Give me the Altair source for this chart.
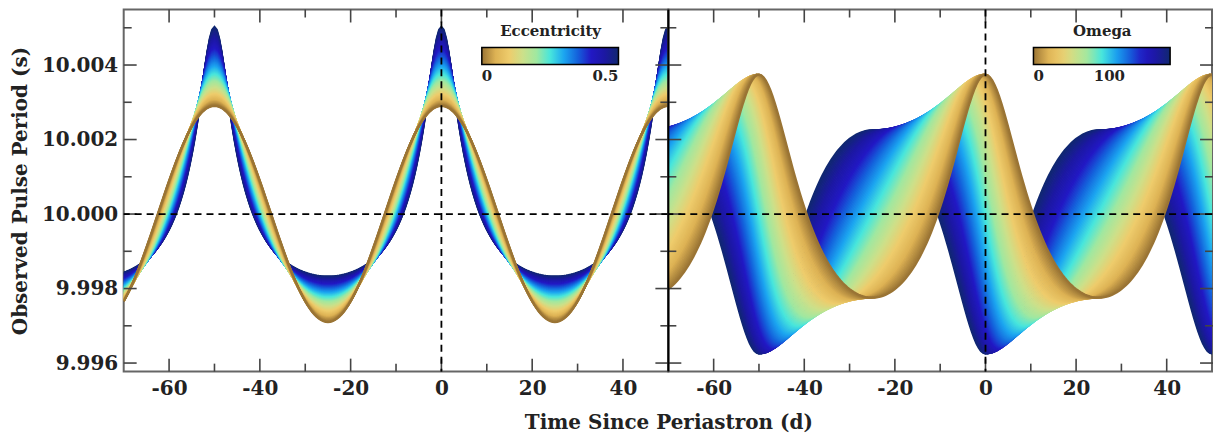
import numpy as np
import pandas as pd
import altair as alt

# ---- values ---------------------------------------------------------------
P_REST = 10.0            # s, level of the horizontal dashed line
P_ORBIT = 50.0           # d, peaks at -50, 0, 50
K_CIRC = 0.0029          # s, half range of the circular (e = 0) curve
OMEGA_LEFT = 0.0         # deg, argument of periastron in the left panel
ECC_RIGHT = 0.25         # eccentricity in the right panel
ecc_values = [round(0.005 * i, 3) for i in range(101)]     # 0 ... 0.5
omega_values = [2 * i for i in range(91)]                  # 0 ... 180 deg
time_days = [round(-70 + 0.5 * i, 1) for i in range(241)]  # -70 ... 50

x_domain = [-70, 50]
y_domain = [9.99577, 10.00549]
y_major = [9.996, 9.998, 10.000, 10.002, 10.004]
y_minor = [9.997, 9.999, 10.001, 10.003, 10.005]
x_major = [-60, -40, -20, 0, 20, 40]
x_minor = [-50, -30, -10, 10, 30]
colors = ["#9A7434", "#DDB254", "#EECC6C", "#CCE08A", "#A0E8A0", "#48E6DC",
          "#1CA6F0", "#1462DC", "#2218C4", "#1C18A2", "#102870"]

W, H = 546, 363
FONT = "DejaVu Serif"
TXT = "#222222"


def period_curve(e, omega_deg):
    t = np.array(time_days)
    M = 2 * np.pi * t / P_ORBIT
    E = M.copy()
    for _ in range(60):
        E = E - (E - e * np.sin(E) - M) / (1 - e * np.cos(E))
    nu = 2 * np.arctan2(np.sqrt(1 + e) * np.sin(E / 2), np.sqrt(1 - e) * np.cos(E / 2))
    w = np.radians(omega_deg)
    K = K_CIRC / np.sqrt(1 - e ** 2)
    return P_REST + K * (np.cos(nu + w) + e * np.cos(w))


def family(values, name, fixed_e=None, fixed_w=None):
    rows = []
    # highest value first so that the lowest one is drawn on top
    for k, v in enumerate(reversed(values)):
        e = v if fixed_e is None else fixed_e
        w = v if fixed_w is None else fixed_w
        p = period_curve(e, w)
        rows.append(pd.DataFrame({"t": time_days, "P": np.round(p, 7),
                                  name: v, "k": f"g{k:03d}"}))
    return pd.concat(rows, ignore_index=True)


df_left = family(ecc_values, "ecc", fixed_w=OMEGA_LEFT)
df_right = family(omega_values, "omega", fixed_e=ECC_RIGHT)

xs = alt.Scale(domain=x_domain, nice=False, zero=False)
ys = alt.Scale(domain=y_domain, nice=False, zero=False)

ax_x_left = alt.Axis(
    title="Time Since Periastron (d)", values=x_major, ticks=False, domain=False,
    grid=False, labelExpr="'' + datum.value", labelPadding=7, titleX=W,
    titleY=51, titleBaseline="middle", titleAlign="center")
ax_y_left = alt.Axis(
    title="Observed Pulse Period (s)", values=y_major, format=".3f", ticks=False,
    domain=False, grid=False, labelPadding=6, titleX=-103, titleY=H / 2,
    titleBaseline="middle", titleAlign="center")
ax_x_right = alt.Axis(
    title=None, values=x_major, ticks=False, domain=False, grid=False,
    labelExpr="'' + datum.value", labelPadding=7)


def guides(ax_x, ax_y, right_panel):
    layers = []
    tick_col = "#444444"

    def Y(f):
        return alt.Y(f, scale=ys, axis=ax_y)

    def X(f):
        return alt.X(f, scale=xs, axis=ax_x)

    for vals, ln in [(y_major, 13), (y_minor, 8)]:
        d = pd.DataFrame({"P": vals})
        layers.append(alt.Chart(d).mark_rule(color=tick_col, strokeWidth=1.6).encode(
            y=Y("P:Q"), x=alt.value(0), x2=alt.value(ln)))
        layers.append(alt.Chart(d).mark_rule(color=tick_col, strokeWidth=1.6).encode(
            y=Y("P:Q"), x=alt.value(W), x2=alt.value(W - ln)))
    for vals, ln in [(x_major, 13), (x_minor, 8)]:
        d = pd.DataFrame({"t": vals})
        layers.append(alt.Chart(d).mark_rule(color=tick_col, strokeWidth=1.6).encode(
            x=X("t:Q"), y=alt.value(H), y2=alt.value(H - ln)))
        layers.append(alt.Chart(d).mark_rule(color=tick_col, strokeWidth=1.6).encode(
            x=X("t:Q"), y=alt.value(0), y2=alt.value(ln)))
    dash = [7, 5]
    layers.append(alt.Chart(pd.DataFrame({"P": [P_REST]})).mark_rule(
        color="black", strokeWidth=1.8, strokeDash=dash).encode(y=Y("P:Q")))
    layers.append(alt.Chart(pd.DataFrame({"t": [0]})).mark_rule(
        color="black", strokeWidth=1.8, strokeDash=dash).encode(x=X("t:Q")))
    if right_panel:
        layers.append(alt.Chart(pd.DataFrame({"t": [0]})).mark_rule(
            color="black", strokeWidth=2).encode(
            x=alt.value(0), y=alt.value(0), y2=alt.value(H)))
    return layers


def legend(title, vals, fmt, lx):
    return alt.Legend(
        title=title, orient="none", legendX=lx, legendY=15, direction="horizontal",
        gradientLength=137, gradientThickness=17, gradientStrokeColor="black",
        gradientStrokeWidth=1.5, values=vals, format=fmt, labelAlign="center",
        labelFont=FONT, labelFontSize=15, labelFontWeight="bold", labelColor=TXT,
        labelOffset=5, titleFont=FONT, titleFontSize=15, titleFontWeight="bold",
        titleColor=TXT, titleAnchor="middle", titlePadding=8)


left_lines = alt.Chart(df_left).mark_line(strokeWidth=2.2, clip=True).encode(
    x=alt.X("t:Q", scale=xs, axis=ax_x_left),
    y=alt.Y("P:Q", scale=ys, axis=ax_y_left),
    color=alt.Color("ecc:Q", scale=alt.Scale(domain=[0, 0.5], range=colors,
                                             interpolate="rgb"),
                    legend=legend("Eccentricity", [0, 0.5], ".1~f", 359)),
    detail="k:N",
)

right_lines = alt.Chart(df_right).mark_line(strokeWidth=2.2, clip=True).encode(
    x=alt.X("t:Q", scale=xs, axis=ax_x_right),
    y=alt.Y("P:Q", scale=ys, axis=None),
    color=alt.Color("omega:Q", scale=alt.Scale(domain=[0, 180], range=colors,
                                               interpolate="rgb"),
                    legend=legend("Omega", [0, 100], "d", 366)),
    detail="k:N",
)

left = alt.layer(left_lines, *guides(ax_x_left, ax_y_left, False)).properties(width=W, height=H)
right = alt.layer(right_lines, *guides(ax_x_right, None, True)).properties(width=W - 1, height=H)

chart = alt.hconcat(left, right, spacing=0, bounds="flush").resolve_scale(
    color="independent").properties(
    padding={"left": 9, "top": 7, "right": 2, "bottom": 2},
    background="white",
).configure_view(stroke="#666666", strokeWidth=2).configure_axis(
    labelFont=FONT, labelFontSize=20, labelFontWeight="bold", labelColor=TXT,
    titleFont=FONT, titleFontSize=20, titleFontWeight="bold", titleColor=TXT
)

chart.save("out.html", embed_options={"renderer": "svg", "actions": False})
